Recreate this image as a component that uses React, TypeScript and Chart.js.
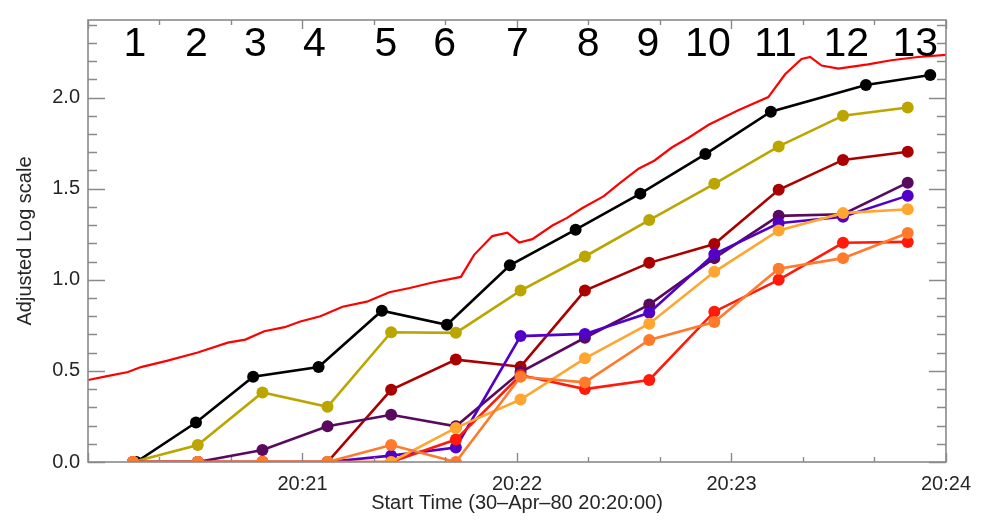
import React, { useEffect, useRef } from "react";
import { Chart, registerables } from "chart.js";

Chart.register(...registerables);

// ---- data (x in seconds after 20:20:00) ----
const seriesTimes = [12.6, 30.7, 48.8, 67.0, 84.8, 102.9, 121.0, 139.0, 157.0, 175.2, 193.2, 211.2, 229.3];
const blackTimes = [13.5, 30.2, 46.2, 64.5, 82.2, 100.4, 118.0, 136.4, 154.5, 172.7, 191.0, 217.6, 235.6];

const blackValues = [0.0, 0.217, 0.468, 0.521, 0.83, 0.753, 1.08, 1.275, 1.473, 1.69, 1.923, 2.069, 2.124];
const oliveValues = [0.0, 0.093, 0.382, 0.303, 0.712, 0.709, 0.941, 1.128, 1.328, 1.527, 1.732, 1.901, 1.946];
const darkRedValues = [0, 0, 0, 0, 0.396, 0.562, 0.523, 0.941, 1.093, 1.196, 1.494, 1.658, 1.703];
const purpleValues = [0, 0, 0.066, 0.196, 0.259, 0.196, 0.494, 0.682, 0.864, 1.119, 1.351, 1.36, 1.533];
const blueValues = [0, 0, 0, 0, 0.035, 0.08, 0.691, 0.703, 0.819, 1.141, 1.31, 1.346, 1.462];
const lightOrangeValues = [0, 0, 0, 0, 0, 0.187, 0.343, 0.569, 0.759, 1.044, 1.271, 1.366, 1.387];
const darkOrangeValues = [0, 0, 0, 0, 0.093, 0.0, 0.468, 0.437, 0.67, 0.768, 1.061, 1.119, 1.257];
const redValues = [0, 0, 0, 0, 0, 0.123, 0.477, 0.4, 0.45, 0.825, 1.0, 1.203, 1.208];

const curveTimes = [0, 5.0, 11.2, 14.8, 22.0, 30.7, 39.1, 44.0, 49.3, 55.0, 59.4, 65.0, 71.2, 78.0, 84.3, 90.0, 96.4, 104.3, 108.0, 113.1, 117.3, 120.6, 124.3, 129.9, 134.0, 138.2, 144.3, 148.5, 154.0, 158.5, 163.3, 168.0, 173.6, 181.9, 190.3, 195.0, 199.6, 202.0, 205.2, 209.9, 218.2, 224.7, 232.2, 240];
const curveValues = [0.45, 0.47, 0.494, 0.521, 0.555, 0.601, 0.655, 0.672, 0.718, 0.74, 0.771, 0.8, 0.852, 0.88, 0.932, 0.955, 0.985, 1.016, 1.137, 1.24, 1.259, 1.205, 1.223, 1.298, 1.34, 1.393, 1.459, 1.527, 1.61, 1.655, 1.726, 1.78, 1.851, 1.931, 2.003, 2.128, 2.212, 2.223, 2.176, 2.159, 2.182, 2.205, 2.223, 2.235];

const numberLabels = ["1", "2", "3", "4", "5", "6", "7", "8", "9", "10", "11", "12", "13"];
const numberTimes = [13.1, 30.3, 46.8, 63.3, 83.3, 99.8, 120.1, 139.9, 156.6, 173.4, 192.3, 212.1, 231.4];

const yTickValues = [0, 0.5, 1.0, 1.5, 2.0];
const xTickValues = [60, 120, 180, 240];
const xTickLabels = ["20:21", "20:22", "20:23", "20:24"];

const X_MIN = 0;
const X_MAX = 240;
const Y_MIN = 0;
const Y_MAX = 2.426;

const AXIS_COLOR = "#8a8a8a";
const TEXT_COLOR = "#262626";
const FONT = '"Liberation Sans", Arial, Helvetica, sans-serif';

function pts(xs: number[], ys: number[]) {
  return ys.map((v, i) => ({ x: xs[i], y: v }));
}

function markerSet(label: string, color: string, xs: number[], ys: number[]) {
  return {
    label,
    data: pts(xs, ys),
    borderColor: color,
    backgroundColor: color,
    borderWidth: 2.6,
    pointRadius: 6,
    pointBorderWidth: 0,
    pointBackgroundColor: color,
    tension: 0,
    clip: 0,
  };
}

const framePlugin = {
  id: "frame",
  afterDatasetsDraw(chart: any) {
    const { ctx, chartArea: a, scales } = chart;
    const xs = scales.x;
    const ys = scales.y;
    ctx.save();
    ctx.strokeStyle = AXIS_COLOR;
    ctx.lineWidth = 1.6;
    ctx.strokeRect(a.left, a.top, a.right - a.left, a.bottom - a.top);
    ctx.lineWidth = 1.4;
    ctx.beginPath();
    for (let i = 0; i <= 24; i++) {
      const v = i / 10;
      if (v > Y_MAX) break;
      const py = Math.round(ys.getPixelForValue(v)) + 0.5;
      const len = i % 5 === 0 ? 17 : 9;
      ctx.moveTo(a.left, py);
      ctx.lineTo(a.left + len, py);
      ctx.moveTo(a.right, py);
      ctx.lineTo(a.right - len, py);
    }
    for (let s = 0; s <= 240; s += 20) {
      const px = Math.round(xs.getPixelForValue(s)) + 0.5;
      const len = s % 60 === 0 ? 9 : 5;
      ctx.moveTo(px, a.bottom);
      ctx.lineTo(px, a.bottom - len);
      ctx.moveTo(px, a.top);
      ctx.lineTo(px, a.top + len);
    }
    ctx.stroke();

    ctx.fillStyle = "#000000";
    ctx.font = "41px " + FONT;
    ctx.textAlign = "center";
    ctx.textBaseline = "middle";
    numberLabels.forEach((t, i) => {
      ctx.fillText(t, xs.getPixelForValue(numberTimes[i]), a.top + 25);
    });
    ctx.restore();
  },
};

export default function App() {
  const ref = useRef<HTMLCanvasElement | null>(null);

  useEffect(() => {
    if (!ref.current) return;
    const chart = new Chart(ref.current, {
      type: "line",
      data: {
        datasets: [
          markerSet("darkorange", "#ff7a2a", seriesTimes, darkOrangeValues),
          markerSet("lightorange", "#ffa630", seriesTimes, lightOrangeValues),
          markerSet("red", "#ff1a0a", seriesTimes, redValues),
          markerSet("blue", "#5200c8", seriesTimes, blueValues),
          markerSet("purple", "#5a0a5e", seriesTimes, purpleValues),
          markerSet("darkred", "#aa0000", seriesTimes, darkRedValues),
          markerSet("olive", "#bba600", seriesTimes, oliveValues),
          markerSet("black", "#000000", blackTimes, blackValues),
          {
            label: "curve",
            data: pts(curveTimes, curveValues),
            borderColor: "#ff0000",
            backgroundColor: "#ff0000",
            borderWidth: 2.2,
            pointRadius: 0,
            tension: 0,
            clip: 0,
          },
        ] as any,
      },
      options: {
        animation: false,
        responsive: false,
        devicePixelRatio: 1,
        layout: { padding: { top: 10, right: 33, left: 0, bottom: 0 } },
        plugins: { legend: { display: false }, tooltip: { enabled: false }, title: { display: false } },
        scales: {
          x: {
            type: "linear",
            min: X_MIN,
            max: X_MAX,
            grid: { display: false, drawTicks: false },
            border: { display: false },
            afterBuildTicks: (s: any) => {
              s.ticks = xTickValues.map((v) => ({ value: v }));
            },
            afterFit: (s: any) => {
              s.height = 58;
            },
            ticks: {
              autoSkip: false,
              maxRotation: 0,
              padding: 10,
              color: TEXT_COLOR,
              font: { family: FONT, size: 20 },
              callback: (v: any) => {
                const i = xTickValues.indexOf(Number(v));
                return i >= 0 ? xTickLabels[i] : "";
              },
            },
            title: {
              display: true,
              text: "Start Time (30–Apr–80 20:20:00)",
              color: TEXT_COLOR,
              font: { family: FONT, size: 20 },
              padding: { top: 0, bottom: 5 },
            },
          },
          y: {
            type: "linear",
            min: Y_MIN,
            max: Y_MAX,
            grid: { display: false, drawTicks: false },
            border: { display: false },
            afterBuildTicks: (s: any) => {
              s.ticks = yTickValues.map((v) => ({ value: v }));
            },
            afterFit: (s: any) => {
              s.width = 88;
            },
            ticks: {
              padding: 8,
              color: TEXT_COLOR,
              font: { family: FONT, size: 20 },
              callback: (v: any) => Number(v).toFixed(1),
            },
            title: {
              display: true,
              text: "Adjusted Log scale",
              color: TEXT_COLOR,
              font: { family: FONT, size: 20 },
              padding: { top: 13, bottom: 0 },
            },
          },
        },
      },
      plugins: [framePlugin],
    } as any);
    return () => chart.destroy();
  }, []);

  return (
    <div style={{ position: "absolute", left: 0, top: 0, width: 981, height: 520, background: "#ffffff" }}>
      <canvas ref={ref} width={981} height={520} style={{ display: "block" }} />
    </div>
  );
}
